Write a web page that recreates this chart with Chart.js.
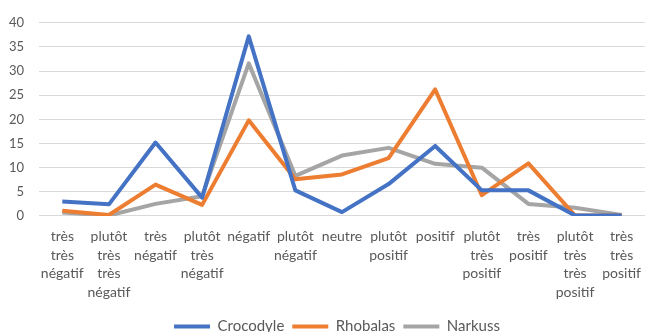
<!DOCTYPE html>
<html>
<head>
<meta charset="utf-8">
<script src="https://cdn.jsdelivr.net/npm/chart.js@4"></script>
<style>
  html, body { margin: 0; padding: 0; background: #fff; overflow: hidden; }
  #wrap { width: 652px; height: 332px; position: relative; }
</style>
</head>
<body>
<div id="wrap"><canvas id="chart"></canvas></div>
<script>
// Category labels (multi-line, as in the source chart)
const categories = [
  ['très', 'très', 'négatif'],
  ['plutôt', 'très', 'très', 'négatif'],
  ['très', 'négatif'],
  ['plutôt', 'très', 'négatif'],
  ['négatif'],
  ['plutôt', 'négatif'],
  ['neutre'],
  ['plutôt', 'positif'],
  ['positif'],
  ['plutôt', 'très', 'positif'],
  ['très', 'positif'],
  ['plutôt', 'très', 'très', 'positif'],
  ['très', 'très', 'positif']
];

const crocodyle = [3.0, 2.4, 15.2, 3.8, 37.2, 5.3, 0.8, 6.6, 14.5, 5.3, 5.3, 0.1, 0.1];
const rhobalas  = [1.1, 0.2, 6.5, 2.3, 19.8, 7.6, 8.6, 12.0, 26.2, 4.3, 10.9, 0.1, 0.1];
const narkuss   = [0.7, 0.1, 2.5, 4.1, 31.6, 8.3, 12.5, 14.1, 10.8, 10.0, 2.5, 1.7, 0.2];

const yTicks = [0, 5, 10, 15, 20, 25, 30, 35, 40];

const textColor = '#595959';
const gridColor = '#d9d9d9';

function series(label, data, color) {
  return {
    label: label,
    data: data,
    borderColor: color,
    backgroundColor: color,
    borderWidth: 4,
    pointRadius: 0,
    pointHoverRadius: 0,
    tension: 0,
    borderJoinStyle: 'round'
  };
}

// nudge the centred legend a little right and up, like the source
const legendShift = {
  id: 'legendShift',
  afterLayout(chart) {
    if (!chart.legend) return;
    chart.legend.left += 11;
    chart.legend.right += 11;
    chart.legend.top -= 2;
    chart.legend.bottom -= 2;
  }
};

const ctx = document.getElementById('chart').getContext('2d');
new Chart(ctx, {
  type: 'line',
  data: {
    labels: categories,
    datasets: [
      series('Crocodyle', crocodyle, '#4472c4'),
      series('Rhobalas', rhobalas, '#ed7d31'),
      series('Narkuss', narkuss, '#a5a5a5')
    ]
  },
  plugins: [legendShift],
  options: {
    responsive: true,
    maintainAspectRatio: false,
    animation: false,
    layout: { padding: { top: 2, left: 0, right: 0, bottom: -14 } },
    plugins: {
      tooltip: { enabled: false },
      legend: {
        position: 'bottom',
        labels: {
          color: textColor,
          font: { family: 'Lato', size: 15 },
          boxWidth: 36,
          boxHeight: 4,
          padding: 8,
          generateLabels: (chart) =>
            Chart.defaults.plugins.legend.labels.generateLabels(chart)
              .map(l => Object.assign(l, { lineWidth: 0 }))
        }
      }
    },
    scales: {
      x: {
        offset: true,
        grid: { display: false, drawTicks: false },
        border: { color: gridColor },
        ticks: {
          color: textColor,
          font: { family: 'Lato', size: 14, lineHeight: 1.34 },
          maxRotation: 0,
          autoSkip: false,
          padding: 11
        }
      },
      y: {
        min: 0,
        max: 40,
        afterBuildTicks: (axis) => { axis.ticks = yTicks.map(v => ({ value: v })); },
        afterFit: (axis) => { axis.width = 39; },
        grid: { color: gridColor, lineWidth: 1, drawTicks: false },
        border: { display: false },
        ticks: {
          color: textColor,
          font: { family: 'Lato', size: 13 },
          padding: 15
        }
      }
    }
  }
});
</script>
</body>
</html>
